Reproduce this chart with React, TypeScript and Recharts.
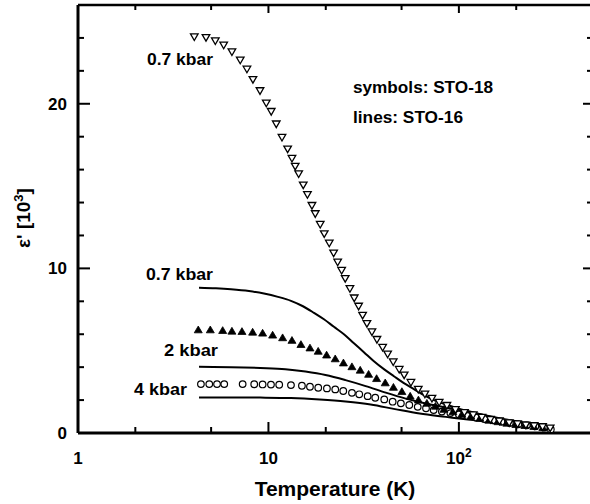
import { ComposedChart, Line, Scatter, XAxis, YAxis } from 'recharts';

// temperature (K) / epsilon' [10^3]
const tempTicks = [1, 2, 5, 10, 20, 50, 100, 200];
const epsTicks = [0, 2, 4, 6, 8, 10, 12, 14, 16, 18, 20, 22, 24];
const tempDomain = [1, 500];
const epsDomain = [0, 26];

// symbols: STO-18
const sto18At07: [number, number][] = [
  [4.08, 24.06], [4.7, 24.02], [5.26, 23.82], [5.82, 23.56], [6.43, 23.15], [7.11, 22.65],
  [7.71, 22.1], [8.29, 21.47], [9.03, 20.79], [9.74, 20.04], [10.34, 19.53], [10.99, 18.77],
  [11.78, 17.96], [12.61, 17.25], [13.29, 16.68], [13.82, 16.2], [14.41, 15.74], [15.23, 15.06],
  [16.02, 14.48], [16.92, 13.82], [17.61, 13.32], [18.7, 12.67], [19.63, 12.1], [20.86, 11.53],
  [21.99, 10.93], [23.09, 10.38], [24.23, 9.88], [25.3, 9.38], [26.78, 8.77], [28.21, 8.2],
  [29.75, 7.7], [31.22, 7.15], [32.89, 6.65], [34.94, 6.14], [37.12, 5.68], [39.77, 5.2],
  [42.24, 4.79], [45.2, 4.32], [48.6, 3.86], [51.6, 3.52], [56, 3.07], [61.2, 2.65],
  [66.3, 2.36], [72.2, 2.1], [78.8, 1.86], [86.5, 1.67], [95.9, 1.42], [106.9, 1.24],
  [118.9, 1.1], [132, 0.95], [146.3, 0.82], [163.2, 0.73], [183.7, 0.62], [203.3, 0.55],
  [224.8, 0.48], [248.5, 0.44], [275, 0.38], [301.5, 0.3],
];

const sto18At2: [number, number][] = [
  [4.28, 6.28], [4.95, 6.28], [5.75, 6.24], [6.43, 6.2], [7.26, 6.18], [8.26, 6.14],
  [9.32, 6.08], [10.52, 5.96], [11.87, 5.8], [13.29, 5.64], [14.81, 5.39], [16.52, 5.18],
  [18.25, 4.98], [20.2, 4.75], [22.42, 4.52], [24.76, 4.27], [27.44, 4.04], [30.33, 3.83],
  [33.57, 3.58], [36.98, 3.32], [41.04, 3.06], [45.32, 2.79], [50.2, 2.53], [55.5, 2.25],
  [61.3, 2.02], [67.9, 1.82], [75.3, 1.64], [83.4, 1.45], [93, 1.3], [103.7, 1.15],
  [115.6, 1.03], [128.9, 0.91], [143.7, 0.79], [160.3, 0.7], [178.6, 0.61], [199.2, 0.53],
  [222.1, 0.47], [247.6, 0.41], [276, 0.35],
];

const sto18At4: [number, number][] = [
  [4.42, 2.97], [4.89, 2.97], [5.37, 2.97], [5.86, 2.97], [7.32, 2.97], [8.42, 2.96],
  [9.32, 2.95], [10.31, 2.94], [11.39, 2.93], [13.13, 2.91], [14.99, 2.87], [16.52, 2.81],
  [18.26, 2.75], [20.28, 2.71], [22.43, 2.65], [24.71, 2.55], [27.45, 2.44], [29.98, 2.35],
  [33.19, 2.24], [36.38, 2.14], [40.56, 2.04], [44.9, 1.9], [49.6, 1.8], [54.9, 1.7],
  [60.8, 1.59], [67.2, 1.5], [73.7, 1.39], [81.4, 1.3], [90.2, 1.21], [100, 1.12],
  [110.8, 1.03], [122.8, 0.94], [136.1, 0.85], [150.8, 0.77], [167.2, 0.68], [185.2, 0.61],
  [205.3, 0.53], [227.5, 0.47], [252.1, 0.41], [279.4, 0.33], [304, 0.22],
];

// lines: STO-16
const sto16At07: [number, number][] = [
  [4.32, 8.83], [5.3, 8.79], [6.36, 8.73], [7.9, 8.62], [9.47, 8.47], [11.22, 8.27],
  [13.13, 8.03], [15.18, 7.7], [17.34, 7.3], [19.56, 6.91], [22.07, 6.45], [24.91, 6.0],
  [28.11, 5.45], [31.71, 4.91], [35.79, 4.36], [40.39, 3.88], [45.58, 3.45], [51.43, 3.03],
  [58.03, 2.67], [65.5, 2.3], [73.9, 2.0], [85.5, 1.73], [100, 1.48], [122.8, 1.21],
  [156.4, 0.91], [199.2, 0.67], [238.8, 0.52], [286.2, 0.36],
];

const sto16At2: [number, number][] = [
  [4.32, 4.02], [6.36, 4.0], [9.06, 3.95], [12.27, 3.88], [15.65, 3.73], [19.93, 3.52],
  [25.4, 3.21], [32.4, 2.85], [41.3, 2.45], [52.6, 2.09], [67.1, 1.79], [85.5, 1.55],
  [109, 1.31], [138.9, 1.06], [177, 0.82], [225.6, 0.61], [287.5, 0.39],
];

const sto16At4: [number, number][] = [
  [4.32, 2.16], [6.36, 2.16], [9.06, 2.15], [13.13, 2.12], [18.6, 2.03], [25.4, 1.91],
  [34.4, 1.73], [46.2, 1.45], [62.3, 1.18], [85.5, 0.98], [114.7, 0.8], [156.4, 0.64],
  [210.9, 0.48], [286.2, 0.36],
];

const toRows = (pts: [number, number][]) => pts.map(([t, e]) => ({ t, e }));

// built once so the chart gets stable data references
const rowsSym07 = toRows(sto18At07);
const rowsSym2 = toRows(sto18At2);
const rowsSym4 = toRows(sto18At4);
const rowsLine07 = toRows(sto16At07);
const rowsLine2 = toRows(sto16At2);
const rowsLine4 = toRows(sto16At4);

const FONT = '"Liberation Sans", Arial, Helvetica, sans-serif';
const INK = '#000';
// chart is shifted up by this much so the top frame axis keeps a normal height
const SHIFT = 15;
const MARGIN = { top: 0, right: 0, bottom: 0, left: 0 };
const THICK_AXIS = { stroke: INK, strokeWidth: 3 };
const THIN_AXIS = { stroke: INK, strokeWidth: 2.5 };

const isMajorT = (v: number) => v === 1 || v === 10 || v === 100;
const isMajorE = (v: number) => v % 10 === 0;

// tick marks point into the plot; labels only on the major ticks
function BottomTick(props: any) {
  const { x, y, payload } = props;
  const v = payload.value;
  const len = isMajorT(v) ? 11 : 6;
  return (
    <g>
      <line x1={x} x2={x} y1={y} y2={y - len} stroke={INK} strokeWidth={2} />
      {isMajorT(v) && (
        <text x={x} y={y + 31} textAnchor="middle" fontFamily={FONT} fontWeight="bold" fontSize={17} fill={INK}>
          {v === 100 ? (
            <>
              10<tspan dy={-7} fontSize={12}>2</tspan>
            </>
          ) : (
            v
          )}
        </text>
      )}
    </g>
  );
}

function TopTick(props: any) {
  const { x, y, payload } = props;
  const len = isMajorT(payload.value) ? 8 : 5;
  return <line x1={x} x2={x} y1={y} y2={y + len} stroke={INK} strokeWidth={2} />;
}

function LeftTick(props: any) {
  const { x, y, payload } = props;
  const v = payload.value;
  const len = isMajorE(v) ? 12 : 6;
  return (
    <g>
      <line x1={x} x2={x + len} y1={y} y2={y} stroke={INK} strokeWidth={2} />
      {isMajorE(v) && (
        <text x={x - 11} y={y + 6} textAnchor="end" fontFamily={FONT} fontWeight="bold" fontSize={17} fill={INK}>
          {v}
        </text>
      )}
    </g>
  );
}

function RightTick(props: any) {
  const { x, y, payload } = props;
  const len = isMajorE(payload.value) ? 9 : 5;
  return <line x1={x} x2={x - len} y1={y} y2={y} stroke={INK} strokeWidth={2} />;
}

const TriDown = (p: any) => (
  <path
    d={`M${p.cx - 3.8},${p.cy - 3} L${p.cx + 3.8},${p.cy - 3} L${p.cx},${p.cy + 3.6} Z`}
    fill="#fff"
    stroke={INK}
    strokeWidth={1.3}
  />
);

const TriUpFilled = (p: any) => (
  <path
    d={`M${p.cx - 4},${p.cy + 3.2} L${p.cx + 4},${p.cy + 3.2} L${p.cx},${p.cy - 3.6} Z`}
    fill={INK}
    stroke={INK}
    strokeWidth={0.8}
  />
);

const OpenCircle = (p: any) => (
  <circle cx={p.cx} cy={p.cy} r={3.3} fill="#fff" stroke={INK} strokeWidth={1.2} />
);

const label = { fontFamily: FONT, fontWeight: 'bold' as const, fontSize: 17, fill: INK };

// annotations and axis titles, drawn in an svg laid over the chart
function Annotations() {
  return (
    <svg width={590} height={504} style={{ position: 'absolute', left: 0, top: 0, pointerEvents: 'none' }}>
      <text x={147} y={65} {...label} textLength={66} lengthAdjust="spacingAndGlyphs">0.7 kbar</text>
      <text x={146} y={280} {...label} textLength={67} lengthAdjust="spacingAndGlyphs">0.7 kbar</text>
      <text x={164} y={356} {...label} textLength={54} lengthAdjust="spacingAndGlyphs">2 kbar</text>
      <text x={134} y={395} {...label} textLength={53} lengthAdjust="spacingAndGlyphs">4 kbar</text>
      <text x={353} y={93} {...label} textLength={140} lengthAdjust="spacingAndGlyphs">symbols: STO-18</text>
      <text x={353} y={123} {...label} textLength={110} lengthAdjust="spacingAndGlyphs">lines: STO-16</text>
      <text x={335} y={496} textAnchor="middle" fontFamily={FONT} fontWeight="bold" fontSize={21} fill={INK}>
        Temperature (K)
      </text>
      <text transform="rotate(-90)" x={-218} y={30} textAnchor="middle" fontFamily={FONT} fontWeight="bold" fontSize={19} fill={INK}>
        ε' [10<tspan dy={-7} fontSize={13}>3</tspan>
        <tspan dy={7}>]</tspan>
      </text>
    </svg>
  );
}

export default function App() {
  return (
    <div style={{ position: 'absolute', left: 0, top: 0, width: 590, height: 504, overflow: 'hidden', background: '#fff' }}>
      <div style={{ position: 'absolute', left: 0, top: -SHIFT }}>
        <ComposedChart width={612} height={504 + SHIFT} margin={MARGIN}>
          <XAxis
            dataKey="t"
            type="number"
            scale="log"
            domain={tempDomain}
            ticks={tempTicks}
            interval={0}
            allowDataOverflow
            height={71}
            tickSize={0}
            tickMargin={0}
            tickLine={false}
            tick={BottomTick}
            axisLine={THICK_AXIS}
          />
          <XAxis
            xAxisId="top"
            orientation="top"
            dataKey="t"
            type="number"
            scale="log"
            domain={tempDomain}
            ticks={tempTicks}
            interval={0}
            allowDataOverflow
            height={20}
            tickSize={0}
            tickMargin={0}
            tickLine={false}
            tick={TopTick}
            axisLine={THIN_AXIS}
          />
          <YAxis
            type="number"
            domain={epsDomain}
            ticks={epsTicks}
            interval={0}
            allowDataOverflow
            width={78}
            tickSize={0}
            tickMargin={0}
            tickLine={false}
            tick={LeftTick}
            axisLine={THICK_AXIS}
          />
          <YAxis
            yAxisId="right"
            orientation="right"
            type="number"
            domain={epsDomain}
            ticks={epsTicks}
            interval={0}
            allowDataOverflow
            width={20}
            tickSize={0}
            tickMargin={0}
            tickLine={false}
            tick={RightTick}
            axisLine={THIN_AXIS}
          />

          <Line data={rowsLine07} dataKey="e" type="monotone" dot={false} stroke={INK} strokeWidth={2} isAnimationActive={false} />
          <Line data={rowsLine2} dataKey="e" type="monotone" dot={false} stroke={INK} strokeWidth={2} isAnimationActive={false} />
          <Line data={rowsLine4} dataKey="e" type="monotone" dot={false} stroke={INK} strokeWidth={2} isAnimationActive={false} />

          <Scatter data={rowsSym4} dataKey="e" shape={OpenCircle} isAnimationActive={false} />
          <Scatter data={rowsSym2} dataKey="e" shape={TriUpFilled} isAnimationActive={false} />
          <Scatter xAxisId="top" yAxisId="right" data={rowsSym07} dataKey="e" shape={TriDown} isAnimationActive={false} />
        </ComposedChart>
      </div>
      <Annotations />
    </div>
  );
}
